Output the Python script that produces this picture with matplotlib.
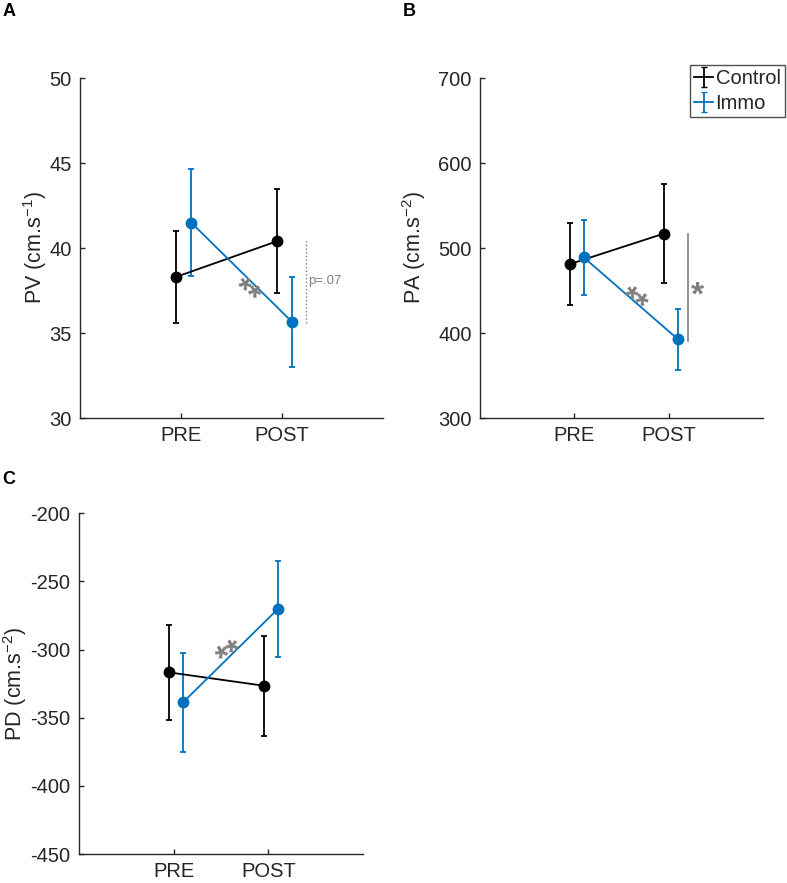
import numpy as np
import matplotlib.pyplot as plt

plt.rcParams['font.family'] = ['Liberation Sans', 'DejaVu Sans']
plt.rcParams['axes.unicode_minus'] = False
plt.rcParams['mathtext.fontset'] = 'custom'
plt.rcParams['mathtext.rm'] = 'Liberation Sans'
plt.rcParams['mathtext.default'] = 'regular'

# data: means and error bar half-lengths, for PRE/POST
xlabels = ['PRE', 'POST']
pv_ctrl = [38.3, 40.4];  pv_ctrl_err = [2.7, 3.05]
pv_immo = [41.5, 35.65]; pv_immo_err = [3.15, 2.67]
pa_ctrl = [481, 517];    pa_ctrl_err = [48.5, 58.5]
pa_immo = [489, 392.5];  pa_immo_err = [44.5, 36]
pd_ctrl = [-316.7, -326.5]; pd_ctrl_err = [35, 36.8]
pd_immo = [-338.7, -270.2]; pd_immo_err = [36.5, 35.5]

blue = '#0072BD'
grey = '#808080'
axcol = '#262626'

fig = plt.figure(figsize=(7.87, 8.83), dpi=100)

def panel(rect, ctrl, ctrl_err, immo, immo_err, ylim, yticks, ylabel, labx):
    ax = fig.add_axes(rect)
    x = np.array([1, 2])
    ax.errorbar(x - 0.05, ctrl, yerr=ctrl_err, color='k', marker='o', ms=7.5,
                lw=1.3, elinewidth=1.3, capsize=2.5, capthick=1.3)
    ax.errorbar(x + 0.1, immo, yerr=immo_err, color=blue, marker='o', ms=7.5,
                lw=1.3, elinewidth=1.3, capsize=2.5, capthick=1.3)
    ax.set_xlim(0, 3)
    ax.set_ylim(*ylim)
    ax.set_xticks(x)
    ax.set_xticklabels(xlabels)
    ax.set_yticks(yticks)
    ax.set_ylabel(ylabel, fontsize=15.5, color=axcol)
    ax.yaxis.set_label_coords(labx, 0.5)
    for s in ['top', 'right']:
        ax.spines[s].set_visible(False)
    for s in ['left', 'bottom']:
        ax.spines[s].set_color(axcol)
        ax.spines[s].set_linewidth(1.0)
    ax.tick_params(direction='in', length=3.5, width=1.0, color=axcol,
                   labelsize=14.5, labelcolor=axcol, pad=6)
    return ax

axA = panel([0.1017, 0.5266, 0.385, 0.385], pv_ctrl, pv_ctrl_err, pv_immo, pv_immo_err,
            (30, 50), [30, 35, 40, 45, 50], 'PV (cm.s$^{-1}$)', -0.102)
axB = panel([0.6099, 0.5266, 0.3596, 0.385], pa_ctrl, pa_ctrl_err, pa_immo, pa_immo_err,
            (300, 700), [300, 400, 500, 600, 700], 'PA (cm.s$^{-2}$)', -0.184)
axC = panel([0.100, 0.0328, 0.3616, 0.3859], pd_ctrl, pd_ctrl_err, pd_immo, pd_immo_err,
            (-450, -200), [-450, -400, -350, -300, -250, -200], 'PD (cm.s$^{-2}$)', -0.175)

# annotations
star = dict(color=grey, fontsize=24, fontweight='semibold', ha='center', va='center')
axA.plot([2.24, 2.24], [35.6, 40.45], color=grey, lw=1, ls=':')
axA.text(2.26, 38.05, 'p=.07', color=grey, fontsize=9.5, va='center', ha='left')
axA.text(1.63, 37.3, '**', rotation=-38, **star)

axB.plot([2.2, 2.2], [391, 517], color=grey, lw=1.2)
axB.text(2.3, 443, '*', **star)
axB.text(1.62, 436, '**', rotation=-35, **star)

axC.text(1.61, -304, '**', rotation=30, **star)

# legend on panel B
hc = axB.errorbar([np.nan], [np.nan], yerr=[1], color='k', lw=1.3, capsize=2.5, label='Control')
hi = axB.errorbar([np.nan], [np.nan], yerr=[1], color=blue, lw=1.3, capsize=2.5, label='Immo')
leg = axB.legend(handles=[hc, hi], loc='upper right', bbox_to_anchor=(0.997, 0.926),
                 bbox_transform=fig.transFigure, fontsize=14.5, frameon=True, fancybox=False,
                 handlelength=0.9, handletextpad=0.15, borderpad=0.2, labelspacing=0.3,
                 borderaxespad=0)
leg.get_frame().set_edgecolor(axcol)
leg.get_frame().set_linewidth(1.0)
for t in leg.get_texts():
    t.set_color(axcol)

fig.text(0.003, 0.997, 'A', fontsize=13, fontweight='bold', va='top')
fig.text(0.512, 0.997, 'B', fontsize=13, fontweight='bold', va='top')
fig.text(0.003, 0.467, 'C', fontsize=13, fontweight='bold', va='top')

fig.savefig('out.png', dpi=100)
